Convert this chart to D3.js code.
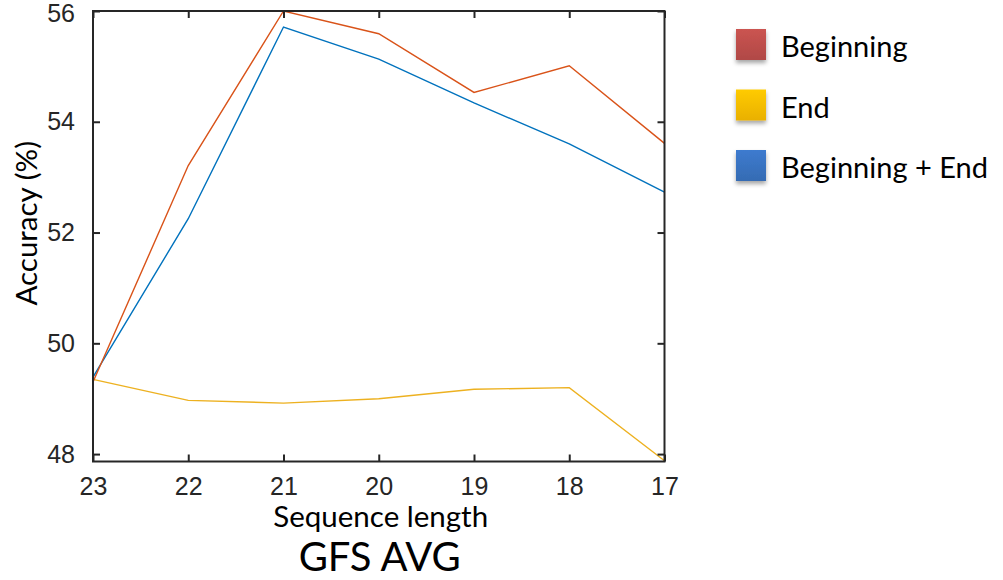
<!DOCTYPE html>
<html>
<head>
<meta charset="utf-8">
<script src="https://cdn.jsdelivr.net/npm/d3@7"></script>
<style>
  html, body { margin: 0; padding: 0; background: #fff; }
  svg { display: block; }
</style>
</head>
<body>
<svg id="chart" width="1003" height="580"></svg>
<script>
// Sequence length on the x axis (descending), accuracy (%) per series
const seqLengths = [23, 22, 21, 20, 19, 18, 17];
const beginning    = [49.30, 53.21, 56.00, 55.59, 54.53, 55.01, 53.61];
const endOnly      = [49.35, 48.97, 48.92, 49.00, 49.17, 49.20, 47.88];
const beginningEnd = [49.39, 52.25, 55.71, 55.13, 54.34, 53.60, 52.73];
const yTicks = [48, 50, 52, 54, 56];
const seriesNames = ["Beginning", "End", "Beginning + End"];

const lineColors   = ["#D95319", "#EDB120", "#0072BD"];
const legendColors = ["#C0504D", "#FFC000", "#3A75C4"];

const svg = d3.select("#chart");
const plotL = 93, plotR = 664.5, plotT = 11, plotB = 461.5;

const x = d3.scalePoint().domain(seqLengths).range([plotL, plotR]);
const y = d3.scaleLinear().domain([47.866, 56]).range([plotB, plotT]);

const axisColor = "#262626";
const tickFont = "'Liberation Sans', Arial, sans-serif";
const labelFont = "Lato, 'Open Sans', sans-serif";

// Data lines
const series = [beginning, endOnly, beginningEnd];
const line = d3.line().x((d, i) => x(seqLengths[i])).y(d => y(d));
// draw order: yellow, blue, then orange on top
[1, 2, 0].forEach(k => {
  svg.append("path")
    .datum(series[k])
    .attr("d", line)
    .attr("fill", "none")
    .attr("stroke", lineColors[k])
    .attr("stroke-width", 1.4)
    .attr("stroke-linejoin", "miter");
});

// Axes (inward ticks on all four sides)
const tickLen = 7;
const gB = svg.append("g").attr("transform", `translate(0,${plotB})`)
  .call(d3.axisBottom(x).tickSizeInner(-tickLen).tickSizeOuter(0).tickPadding(16));
const gT = svg.append("g").attr("transform", `translate(0,${plotT})`)
  .call(d3.axisTop(x).tickSizeInner(-tickLen).tickSizeOuter(0).tickFormat(""));
const gL = svg.append("g").attr("transform", `translate(${plotL},0)`)
  .call(d3.axisLeft(y).tickValues(yTicks).tickSizeInner(-tickLen).tickSizeOuter(0).tickPadding(18));
const gR = svg.append("g").attr("transform", `translate(${plotR},0)`)
  .call(d3.axisRight(y).tickValues(yTicks).tickSizeInner(-tickLen).tickSizeOuter(0).tickFormat(""));

[gB, gT, gL, gR].forEach(g => {
  g.select(".domain").remove();
  g.selectAll(".tick line").attr("stroke", axisColor).attr("stroke-width", 2);
  g.selectAll(".tick text")
    .attr("fill", axisColor)
    .style("font-family", tickFont)
    .style("font-size", "25px");
});
gB.selectAll(".tick text").attr("dy", "0.69em");
// keep the top label inside the canvas
gL.selectAll(".tick text").filter(d => d === 56).attr("dy", "0.42em");

// Box
svg.append("rect")
  .attr("x", plotL).attr("y", plotT)
  .attr("width", plotR - plotL).attr("height", plotB - plotT)
  .attr("fill", "none").attr("stroke", axisColor).attr("stroke-width", 2);

// Axis labels and title
svg.append("text")
  .attr("transform", `translate(37,${(plotT + plotB) / 2 - 13}) rotate(-90)`)
  .attr("text-anchor", "middle")
  .style("font-family", labelFont).style("font-size", "29.5px")
  .attr("fill", "#000")
  .text("Accuracy (%)");

svg.append("text")
  .attr("x", (plotL + plotR) / 2 + 2).attr("y", 527)
  .attr("text-anchor", "middle")
  .style("font-family", labelFont).style("font-size", "29.5px")
  .attr("fill", "#000")
  .text("Sequence length");

svg.append("text")
  .attr("x", (plotL + plotR) / 2 + 1).attr("y", 571)
  .attr("text-anchor", "middle")
  .style("font-family", labelFont).style("font-size", "40px")
  .attr("fill", "#000")
  .text("GFS AVG");

// Legend
const defs = svg.append("defs");
const shadow = defs.append("filter").attr("id", "shadow")
  .attr("x", "-30%").attr("y", "-30%").attr("width", "160%").attr("height", "170%");
shadow.append("feDropShadow").attr("dx", 0).attr("dy", 3).attr("stdDeviation", 2)
  .attr("flood-color", "#000").attr("flood-opacity", 0.35);

legendColors.forEach((c, i) => {
  const grad = defs.append("linearGradient").attr("id", "lg" + i)
    .attr("x1", 0).attr("y1", 0).attr("x2", 0).attr("y2", 1);
  grad.append("stop").attr("offset", "0%").attr("stop-color", d3.color(c).brighter(0.15));
  grad.append("stop").attr("offset", "100%").attr("stop-color", d3.color(c).darker(0.25));
});

const legend = svg.append("g");
const legendY = d3.scalePoint().domain(seriesNames).range([45, 166]);
seriesNames.forEach((name, i) => {
  const cy = legendY(name);
  legend.append("rect")
    .attr("x", 736).attr("y", cy - 16)
    .attr("width", 30).attr("height", 31)
    .attr("fill", `url(#lg${i})`)
    .attr("filter", "url(#shadow)");
  legend.append("text")
    .attr("x", 781).attr("y", cy + 2)
    .attr("dy", "0.36em")
    .style("font-family", labelFont).style("font-size", "29px")
    .attr("fill", "#000")
    .text(name);
});
</script>
</body>
</html>
